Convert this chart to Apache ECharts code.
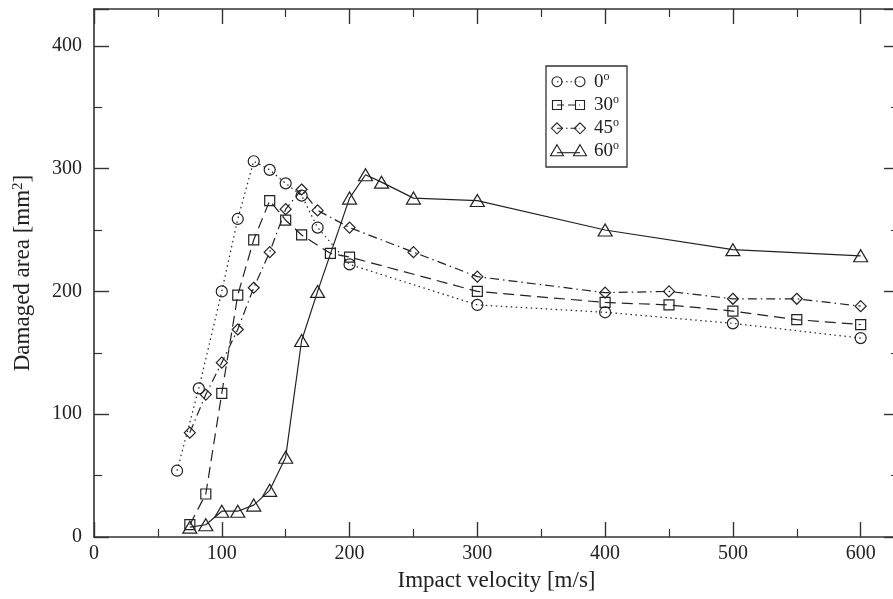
<!DOCTYPE html>
<html>
<head>
<meta charset="utf-8">
<script src="https://cdn.jsdelivr.net/npm/echarts@6/dist/echarts.min.js"></script>
<style>
html,body{margin:0;padding:0;background:#fff;}
#chart{width:893px;height:599px;}
</style>
</head>
<body>
<div id="chart"></div>
<script>
// ---- data ----
const seriesNames = ['0', '30', '45', '60'];
const vel0  = [65, 82, 100, 112.5, 125, 137.5, 150, 162.5, 175, 200, 300, 400, 500, 600];
const area0 = [54, 121, 200, 259, 306, 299, 288, 278, 252, 222, 189, 183, 174, 162];
const vel30  = [75, 87.5, 100, 112.5, 125, 137.5, 150, 162.5, 185, 200, 300, 400, 450, 500, 550, 600];
const area30 = [10, 35, 117, 197, 242, 274, 258, 246, 231, 228, 200, 191, 189, 184, 177, 173];
const vel45  = [75, 87.5, 100, 112.5, 125, 137.5, 150, 162.5, 175, 200, 250, 300, 400, 450, 500, 550, 600];
const area45 = [85, 116, 142, 169, 203, 232, 267, 283, 266, 252, 232, 212, 199, 200, 194, 194, 188];
const vel60  = [75, 87.5, 100, 112.5, 125, 137.5, 150, 162.5, 175, 200, 212.5, 225, 250, 300, 400, 500, 600];
const area60 = [8, 10, 21, 21, 26, 38, 65, 160, 200, 276, 295, 289, 276, 274, 250, 234, 229];
const xTitle = 'Impact velocity [m/s]';
const yTitle = 'Damaged area [mm{s|2}]';

const FONT = "'Liberation Serif', 'DejaVu Serif', serif";
const INK = '#222';
const AX = '#333';

function pairs(xs, ys) { return xs.map((x, i) => [x, ys[i]]); }

const chart = echarts.init(document.getElementById('chart'), null, {renderer: 'canvas'});

const baseAxis = {
  axisLine: {show: true, onZero: false, lineStyle: {color: AX, width: 1.6}},
  axisTick: {show: true, inside: true, length: 15, lineStyle: {color: AX, width: 1.4}},
  minorTick: {show: true, splitNumber: 2, length: 8, lineStyle: {color: AX, width: 1.2}},
  splitLine: {show: false},
  minorSplitLine: {show: false}
};

function mkSeries(name, data, symbol, size, dash) {
  return {
    name: name, type: 'line', data: data,
    symbol: symbol, symbolSize: size,
    showSymbol: true,
    itemStyle: {color: 'rgba(0,0,0,0)', borderColor: INK, borderWidth: 1.2},
    lineStyle: {color: INK, width: 1.2, type: dash},
    emphasis: {disabled: true},
    z: 3
  };
}

// legend drawn as graphics (marker - line - marker, text)
const lgX = 546, lgY = 66, lgW = 81, lgH = 101;
const rowY = [81.7, 105, 128.3, 150.7];
const m1 = 557, m2 = 580;
const dashes = [[1.5, 3], [7, 4], [6, 3, 1.5, 3], null];
function markerShape(k, cx, cy) {
  const st = {fill: 'rgba(0,0,0,0)', stroke: INK, lineWidth: 1.1};
  if (k === 0) return {type: 'circle', shape: {cx: cx, cy: cy, r: 5}, style: st, z: 101};
  if (k === 1) return {type: 'rect', shape: {x: cx - 4.5, y: cy - 4.5, width: 9, height: 9}, style: st, z: 101};
  if (k === 2) return {type: 'polygon', shape: {points: [[cx, cy - 5.5], [cx + 5.5, cy], [cx, cy + 5.5], [cx - 5.5, cy]]}, style: st, z: 101};
  return {type: 'polygon', shape: {points: [[cx, cy - 6], [cx + 6.5, cy + 5], [cx - 6.5, cy + 5]]}, style: st, z: 101};
}
const graphics = [{
  type: 'rect', shape: {x: lgX, y: lgY, width: lgW, height: lgH},
  style: {fill: '#fff', stroke: AX, lineWidth: 1.3}, z: 100
}];
seriesNames.forEach((nm, k) => {
  const cy = rowY[k];
  const ly = k === 3 ? cy + 2 : cy;
  graphics.push({type: 'line', shape: {x1: m1, y1: ly, x2: m2, y2: ly},
    style: {stroke: INK, lineWidth: 1.1, lineDash: dashes[k] || null}, z: 101});
  graphics.push(markerShape(k, m1, cy));
  graphics.push(markerShape(k, m2, cy));
  graphics.push({type: 'text', x: 594, y: cy, z: 101,
    style: {text: '{n|' + nm + '}{s|o}', verticalAlign: 'middle', align: 'left',
      rich: {n: {fontFamily: FONT, fontSize: 19, fill: INK, lineHeight: 22},
             s: {fontFamily: FONT, fontSize: 12, fill: INK, verticalAlign: 'top', lineHeight: 12}}}});
});

chart.setOption({
  animation: false,
  backgroundColor: '#fff',
  textStyle: {fontFamily: FONT},
  grid: {left: 94, top: 9, width: 805, height: 528, containLabel: false, outerBoundsMode: 'none'},
  xAxis: [
    Object.assign({}, baseAxis, {
      type: 'value', position: 'bottom', min: 0, max: 630, interval: 100,
      axisLabel: {show: true, color: INK, fontFamily: FONT, fontSize: 20, margin: 7, showMaxLabel: false},
      name: xTitle, nameLocation: 'middle', nameGap: 32,
      nameTextStyle: {color: INK, fontFamily: FONT, fontSize: 23}
    }),
    Object.assign({}, baseAxis, {
      type: 'value', position: 'top', min: 0, max: 630, interval: 100,
      axisLabel: {show: false}
    })
  ],
  yAxis: [
    Object.assign({}, baseAxis, {
      type: 'value', position: 'left', min: 0, max: 430, interval: 100,
      axisLabel: {show: true, color: INK, fontFamily: FONT, fontSize: 20, margin: 12, showMaxLabel: false},
      name: yTitle, nameLocation: 'middle', nameGap: 60, nameRotate: 90,
      nameTextStyle: {color: INK, fontFamily: FONT, fontSize: 23,
        rich: {s: {fontFamily: FONT, fontSize: 15, fill: INK, color: INK, verticalAlign: 'top', lineHeight: 15}}}
    }),
    Object.assign({}, baseAxis, {
      type: 'value', position: 'right', min: 0, max: 430, interval: 100,
      axisLabel: {show: false}
    })
  ],
  series: [
    mkSeries('0', pairs(vel0, area0), 'circle', 11, [1.5, 3.5]),
    mkSeries('30', pairs(vel30, area30), 'rect', 10, [11, 6]),
    mkSeries('45', pairs(vel45, area45), 'diamond', 11, [9, 4, 1.5, 4]),
    mkSeries('60', pairs(vel60, area60), 'triangle', [14, 12], 'solid')
  ],
  graphic: graphics
});
</script>
</body>
</html>
